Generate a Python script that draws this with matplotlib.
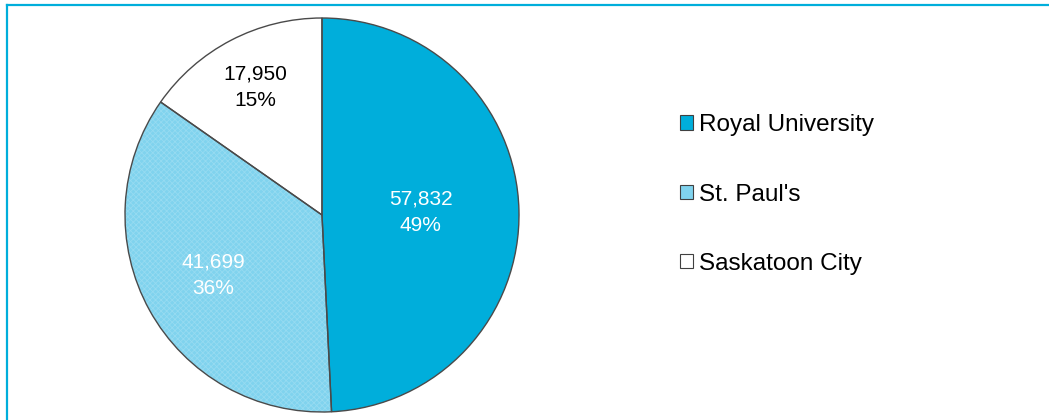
import matplotlib
matplotlib.use("Agg")
import matplotlib.pyplot as plt
from matplotlib.patches import Patch
from matplotlib.lines import Line2D
import numpy as np

categories = ["Royal University", "St. Paul's", "Saskatoon City"]
values = [57832, 41699, 17950]
percent_labels = ["49%", "36%", "15%"]
colors = ["#00AEDB", "#80D3EE", "#FFFFFF"]
label_colors = ["white", "white", "black"]
label_radius = [0.50, 0.63, 0.73]

plt.rcParams['font.family'] = ['Liberation Sans', 'DejaVu Sans']
plt.rcParams['hatch.linewidth'] = 0.6

W, H = 1049, 420
fig = plt.figure(figsize=(W / 100, H / 100), dpi=100)
cx, cy, R = 322, 215, 197
ax = fig.add_axes([(cx - R) / W, (H - cy - R) / H, 2 * R / W, 2 * R / H])

wedges, _ = ax.pie(values, colors=colors, startangle=90, counterclock=False,
                   radius=1, wedgeprops=dict(edgecolor="none", linewidth=0))
# fine hatch overlay for St. Paul's
over, _ = ax.pie(values, colors=["none"] * 3, startangle=90, counterclock=False,
                 radius=1, wedgeprops=dict(linewidth=0))
over[0].set_visible(False)
over[2].set_visible(False)
over[1].set_hatch("xxxxxx")
over[1].set_edgecolor("#96DBF1")
over[1].set_linewidth(0)
over[1].set_zorder(2)
ed, _ = ax.pie(values, colors=["none"] * 3, startangle=90, counterclock=False,
               radius=1, wedgeprops=dict(edgecolor="#4A4A4A", linewidth=1.0))
for w in ed:
    w.set_zorder(3)

for w, v, p, c, r in zip(wedges, values, percent_labels, label_colors, label_radius):
    ang = np.deg2rad((w.theta1 + w.theta2) / 2)
    x, y = r * np.cos(ang), r * np.sin(ang)
    ax.text(x, y, f"{v:,}\n{p}", ha="center", va="center", color=c,
            fontsize=15, linespacing=1.5, zorder=5)
ax.set_xlim(-1, 1)
ax.set_ylim(-1, 1)
ax.set_aspect("equal")
ax.axis("off")

handles = [Patch(facecolor=colors[i], edgecolor="#404040", linewidth=0.8)
           for i in range(3)]
leg = fig.legend(handles, categories, loc="upper left",
                 bbox_to_anchor=(668 / W, 1 - 102 / H), frameon=False,
                 fontsize=17.5, handlelength=0.53, handleheight=0.53,
                 handletextpad=0.25, labelspacing=1.95, borderpad=0)

fig.add_artist(Line2D([7 / W, 1], [1 - 5 / H, 1 - 5 / H], color="#00AEDB", lw=1.6,
                      transform=fig.transFigure))
fig.add_artist(Line2D([7 / W, 7 / W], [0, 1 - 5 / H], color="#00AEDB", lw=1.6,
                      transform=fig.transFigure))

fig.savefig("out.png", dpi=100)
